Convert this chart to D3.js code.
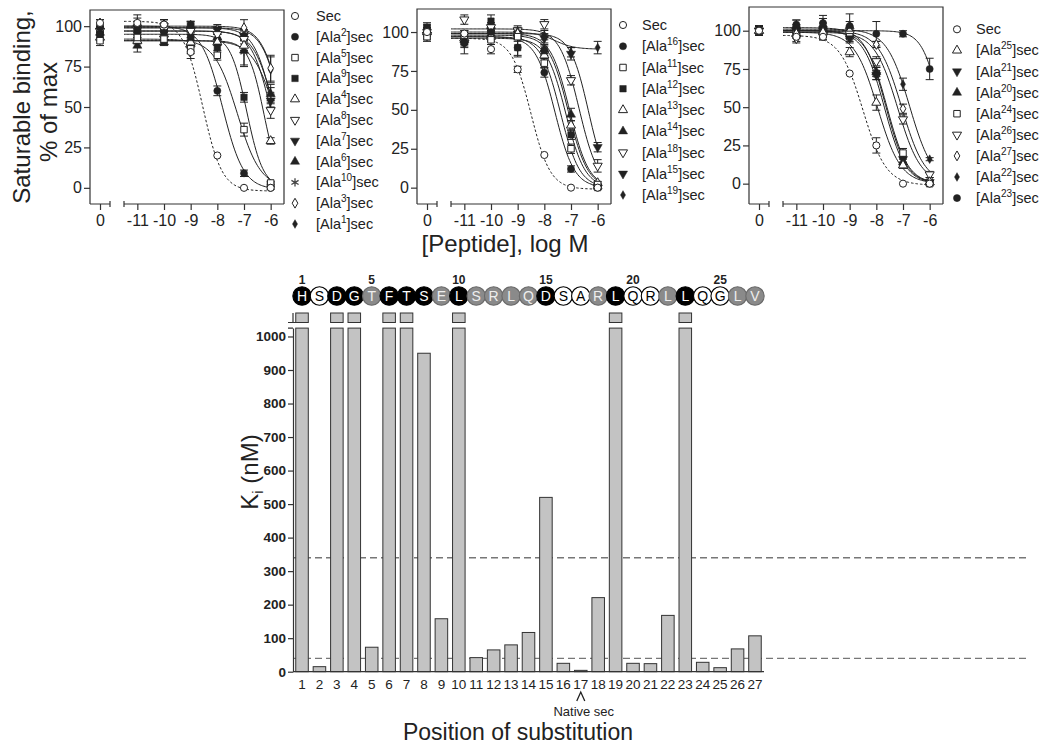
<!DOCTYPE html>
<html><head><meta charset="utf-8">
<script src="https://cdn.jsdelivr.net/npm/d3@7"></script>
<style>body{margin:0;background:#fff}svg{font-family:"Liberation Sans",Arial,Helvetica,sans-serif}</style>
</head><body>
<svg id="c" width="1050" height="748"></svg>
<script>
// ---------------- DATA ----------------
// concentration axis: first entry is the vehicle (no peptide, "0")
const concTickLabels = ["0", "-11", "-10", "-9", "-8", "-7", "-6"];
const concLog = [0, -11, -10, -9, -8, -7, -6];

// Panel 1
const p1Residue = [null, 2, 5, 9, 4, 8, 7, 6, 10, 3, 1];
const p1Symbol = ["circleOpen","circle","squareOpen","square","triangleOpen","triangleDownOpen","triangleDown","triangle","asterisk","diamondOpen","diamondSmall"];
const p1Values = [
  [102,102,101,84,20,0,0],
  [99,100,101,101,60,9,0],
  [91,93,92,86,82,36,3],
  [95,97,96,93,87,56,2],
  [93,91,95,90,90,88,29],
  [97,98,98,97,95,92,48],
  [97,99,100,98,98,94,54],
  [96,88,90,89,93,85,58],
  [98,96,99,95,92,84,58],
  [102,100,101,100,98,99,74],
  [98,98,99,101,97,95,73]
];
const p1Err = [
  [2,3,3,4,0,0,0],[2,3,3,2,3,2,1],[3,2,2,3,3,4,1],[2,2,2,2,3,3,1],
  [2,2,2,2,2,3,2],[2,2,2,2,3,3,5],[2,2,2,2,3,3,4],[2,4,2,2,3,10,4],
  [2,2,2,2,3,8,6],[2,7,3,2,2,5,8],[2,2,2,2,2,3,8]
];
// fitted curve parameters: [top, bottom, logIC50, hill]
const p1Fit = [
  [103,-2,-8.55,1.2],[100,-1,-7.8,1.1],[92,0,-7.25,1],[95,0,-6.9,1.4],
  [91,0,-6.25,1.5],[97,0,-6.0,1.2],[99,0,-5.9,1.2],[91,0,-5.8,1],
  [97,0,-5.85,1.1],[100,0,-5.6,1.2],[99,0,-5.6,1.2]
];

// Panel 2
const p2Residue = [null, 16, 11, 12, 13, 14, 18, 15, 19];
const p2Symbol = ["circleOpen","circle","squareOpen","square","triangleOpen","triangle","triangleDownOpen","triangleDown","diamondSmall"];
const p2Values = [
  [100,99,89,76,21,0,0],
  [102,93,100,90,74,12,0],
  [97,98,95,97,80,25,2],
  [103,94,107,90,88,34,0],
  [100,96,97,99,85,40,3],
  [101,95,98,100,89,47,1],
  [98,108,103,101,105,69,14],
  [100,93,101,99,96,86,26],
  [99,96,102,99,98,87,90]
];
const p2Err = [
  [3,2,3,2,0,0,0],[3,3,4,5,3,2,1],[3,3,3,3,3,3,1],[3,3,4,6,3,3,1],
  [3,3,3,3,3,3,1],[3,3,3,3,3,4,1],[3,3,3,3,3,3,4],[3,7,3,3,3,4,3],[3,3,3,3,3,3,4]
];
const p2Fit = [
  [96,-1,-8.5,1.2],[97,0,-7.6,1.2],[97,0,-7.4,1.2],[96,0,-7.2,1.2],
  [98,0,-7.1,1.2],[99,0,-7.05,1.2],[102,0,-6.7,1.2],[99,0,-6.35,1.3],[100,89,-7.6,1.2]
];

// Panel 3
const p3Residue = [null, 25, 21, 20, 24, 26, 27, 22, 23];
const p3Symbol = ["circleOpen","triangleOpen","triangleDown","triangle","squareOpen","triangleDownOpen","diamondOpen","diamondSmall","circle"];
const p3Values = [
  [100,96,96,72,25,0,0],
  [100,98,99,86,53,12,1],
  [100,100,100,95,71,16,1],
  [100,103,104,103,73,14,1],
  [100,100,99,96,72,20,0],
  [100,95,97,98,80,42,6],
  [100,99,99,100,91,49,3],
  [100,101,102,99,91,65,16],
  [100,104,105,103,98,98,75]
];
const p3Err = [
  [3,3,2,0,5,0,0],[3,3,3,3,5,2,1],[3,3,3,3,3,2,1],[3,4,4,8,3,2,1],
  [3,3,3,3,4,3,1],[3,3,3,3,3,3,2],[3,3,3,3,2,3,1],[3,3,3,3,2,4,1],[3,3,5,3,8,2,7]
];
const p3Fit = [
  [97,-1,-8.5,1],[99,0,-7.95,1],[100,0,-7.7,1.1],[102,0,-7.65,1.1],
  [100,0,-7.6,1.1],[99,0,-7.2,1],[100,0,-7.05,1],[101,0,-6.75,1],[100,0,-5.6,1.3]
];
const yTicksBinding = [0, 25, 50, 75, 100];

// Bottom chart
const positions = [1,2,3,4,5,6,7,8,9,10,11,12,13,14,15,16,17,18,19,20,21,22,23,24,25,26,27];
const residues = ["H","S","D","G","T","F","T","S","E","L","S","R","L","Q","D","S","A","R","L","Q","R","L","L","Q","G","L","V"];
// k = black (large loss), g = grey (intermediate), w = white (little effect)
const residueClass = ["k","w","k","k","g","k","k","k","g","k","g","g","g","g","k","w","w","g","k","w","w","g","k","w","w","g","g"];
// Ki (nM); null = off scale (> 1000 nM, broken bar)
const kiValues = [null,15,null,null,73,null,null,950,158,null,42,65,80,117,520,25,4,221,null,25,24,168,null,28,12,68,107];
const kiTicks = [0,100,200,300,400,500,600,700,800,900,1000];
const kiThresholds = [340, 40];
const numberedPositions = [1,5,10,15,20,25];

// ---------------- DRAW ----------------
const svg = d3.select("#c");
const INK = "#222";

function markerDef(type){
  const m = {
    circleOpen:[d3.symbolCircle,40,"open"], circle:[d3.symbolCircle,40,"fill"],
    squareOpen:[d3.symbolSquare,42,"open"], square:[d3.symbolSquare,42,"fill"],
    triangleOpen:[d3.symbolTriangle,36,"open"], triangle:[d3.symbolTriangle,36,"fill"],
    triangleDownOpen:[d3.symbolTriangle,36,"open",180], triangleDown:[d3.symbolTriangle,36,"fill",180],
    diamondOpen:[d3.symbolDiamond,28,"open"], diamondSmall:[d3.symbolDiamond,22,"fill"],
    asterisk:[d3.symbolAsterisk,48,"ast"]
  };
  return m[type];
}
function drawMarker(g, type, x, y){
  const [sym, size, mode, rot] = markerDef(type);
  const p = g.append("path").attr("d", d3.symbol(sym, size)())
    .attr("transform", `translate(${x},${y})` + (rot ? ` rotate(${rot})` : ""));
  if (mode === "open") p.attr("fill", "#fff").attr("stroke", INK).attr("stroke-width", 1);
  else if (mode === "fill") p.attr("fill", INK).attr("stroke", INK).attr("stroke-width", 0.5);
  else p.attr("fill", "none").attr("stroke", "#444").attr("stroke-width", 1.3);
}
function legendText(g, x, y, residue){
  const t = g.append("text").attr("x", x).attr("y", y).attr("font-size", 14.5).attr("fill", INK);
  if (residue === null) { t.text("Sec"); return; }
  t.append("tspan").text("[Ala");
  t.append("tspan").attr("dy", -6).attr("font-size", 10).text(residue);
  t.append("tspan").attr("dy", 6).text("]sec");
}

function drawPanel(cfg, residue, symbols, values, errs, fits){
  const L = cfg.left, R = cfg.left + 194, T = cfg.top, B = 204;
  const g = svg.append("g");
  const y = d3.scaleLinear().domain(cfg.yDomain).range([B, T]);
  const x1 = d3.scaleLinear().domain([-0.375, 0.375]).range([L, L + 20]);
  const x2 = d3.scaleLinear().domain([-11.5, -5.5]).range([L + 34, R]);
  const xAt = i => i === 0 ? x1(concLog[0]) : x2(concLog[i]);

  // frame
  g.append("path").attr("d", `M${L},${B}V${T}H${R}V${B}`).attr("fill","none").attr("stroke","#333").attr("stroke-width",1.2);
  g.append("path").attr("d", `M${L},${B}H${L+20}M${L+20},${B-3}V${B+3}M${L+34},${B-3}V${B+3}M${L+34},${B}H${R}`)
    .attr("fill","none").attr("stroke","#333").attr("stroke-width",1.2);

  // axes
  const ya = g.append("g").attr("transform", `translate(${L},0)`)
    .call(d3.axisLeft(y).tickValues(yTicksBinding).tickSize(6).tickPadding(2));
  const xa1 = g.append("g").attr("transform", `translate(0,${B})`)
    .call(d3.axisBottom(x1).tickValues([concLog[0]]).tickFormat(() => concTickLabels[0]).tickSize(6).tickPadding(5));
  const xa2 = g.append("g").attr("transform", `translate(0,${B})`)
    .call(d3.axisBottom(x2).tickValues(concLog.slice(1)).tickFormat((d,i) => concTickLabels[i+1]).tickSize(6).tickPadding(5));
  [ya, xa1, xa2].forEach(a => {
    a.select(".domain").remove();
    a.selectAll("line").attr("stroke","#333").attr("stroke-width",1.2);
    a.selectAll("text").attr("font-size",16).attr("fill",INK).attr("font-family","Liberation Sans, Arial, sans-serif");
  });

  // fitted curves
  const line = d3.line().x(d => x2(d[0])).y(d => y(d[1]));
  fits.forEach((f, s) => {
    const [top, bot, c, h] = f;
    const pts = d3.range(-11.5, -5.999, 0.05).map(xv => [xv, bot + (top - bot) / (1 + Math.pow(10, h * (xv - c)))]);
    g.append("path").attr("d", line(pts)).attr("fill","none").attr("stroke", INK)
      .attr("stroke-width", 1).attr("stroke-dasharray", s === 0 ? "2.5,2" : null);
  });

  // error bars
  values.forEach((vals, s) => {
    vals.forEach((v, i) => {
      const e = errs[s][i]; if (!e) return;
      const xx = xAt(i);
      g.append("path").attr("d", `M${xx},${y(v-e)}V${y(v+e)}M${xx-4},${y(v-e)}H${xx+4}M${xx-4},${y(v+e)}H${xx+4}`)
        .attr("stroke", INK).attr("stroke-width", 1).attr("fill","none");
    });
  });
  // markers
  for (let s = values.length - 1; s >= 0; s--) {
    values[s].forEach((v, i) => drawMarker(g, symbols[s], xAt(i), y(v)));
  }
  // legend
  residue.forEach((r, i) => {
    const yy = cfg.legY + i * cfg.legStep;
    drawMarker(g, symbols[i], cfg.legMarkX, yy);
    legendText(g, cfg.legTextX, yy + 5, r);
  });
}

drawPanel({left:90, top:10, yDomain:[-10,110], legMarkX:295, legTextX:316, legY:16, legStep:20.8},
  p1Residue, p1Symbol, p1Values, p1Err, p1Fit);
drawPanel({left:417, top:9, yDomain:[-10.5,114.8], legMarkX:623, legTextX:642, legY:25, legStep:21.25},
  p2Residue, p2Symbol, p2Values, p2Err, p2Fit);
drawPanel({left:749, top:7, yDomain:[-13.3,115.5], legMarkX:957, legTextX:976, legY:29.3, legStep:21.1},
  p3Residue, p3Symbol, p3Values, p3Err, p3Fit);

// top axis titles
svg.append("text").attr("transform","translate(30,107) rotate(-90)").attr("text-anchor","middle")
  .attr("font-size",24).attr("fill",INK).text("Saturable binding,");
svg.append("text").attr("transform","translate(57,112) rotate(-90)").attr("text-anchor","middle")
  .attr("font-size",24).attr("fill",INK).text("% of max");
svg.append("text").attr("x",505).attr("y",252).attr("text-anchor","middle")
  .attr("font-size",24).attr("fill",INK).text("[Peptide], log M");

// ---------- bottom bar chart ----------
const bx = d3.scaleBand().domain(positions).range([293, 764]).paddingInner(0.28).paddingOuter(0.158);
const by = d3.scaleLinear().domain([0, 1025]).range([671.7, 328.1]);
const upperTop = 313, upperBot = 322.5;
const bg = svg.append("g");

// threshold dashed lines
kiThresholds.forEach(v => {
  bg.append("line").attr("x1", 293).attr("x2", 1030).attr("y1", by(v)).attr("y2", by(v))
    .attr("stroke", "#777").attr("stroke-width", 1.3).attr("stroke-dasharray", "7,4");
});

// bars
positions.forEach((p, i) => {
  const v = kiValues[i];
  const x0 = bx(p), w = bx.bandwidth();
  if (v === null) {
    bg.append("rect").attr("x", x0).attr("y", by(1025)).attr("width", w).attr("height", by(0) - by(1025))
      .attr("fill", "#c3c3c3").attr("stroke", "#333").attr("stroke-width", 1);
    bg.append("rect").attr("x", x0).attr("y", upperTop).attr("width", w).attr("height", upperBot - upperTop)
      .attr("fill", "#c3c3c3").attr("stroke", "#333").attr("stroke-width", 1);
  } else {
    bg.append("rect").attr("x", x0).attr("y", by(v)).attr("width", w).attr("height", by(0) - by(v))
      .attr("fill", "#c3c3c3").attr("stroke", "#333").attr("stroke-width", 1);
  }
});

// y axis
const bya = bg.append("g").attr("transform", "translate(293,0)")
  .call(d3.axisLeft(by).tickValues(kiTicks).tickFormat(d3.format("d")).tickSize(5).tickPadding(2).tickSizeOuter(0));
bya.select(".domain").attr("stroke", "#333").attr("stroke-width", 1.2);
bya.selectAll("line").attr("stroke", "#333").attr("stroke-width", 1.2);
bya.selectAll("text").attr("font-size", 13.5).attr("font-weight", "bold").attr("fill", INK)
  .attr("font-family","Liberation Sans, Arial, sans-serif");
bg.append("path").attr("d", `M293,${upperTop}V${upperBot}M288,${upperBot}H298M288,${by(1025)}H293`)
  .attr("stroke", "#333").attr("stroke-width", 1.2).attr("fill", "none");

// x axis
bg.append("line").attr("x1", 293).attr("x2", 764).attr("y1", by(0)).attr("y2", by(0)).attr("stroke", "#333").attr("stroke-width", 1.2);
positions.forEach(p => {
  bg.append("text").attr("x", bx(p) + bx.bandwidth()/2).attr("y", 689).attr("text-anchor", "middle")
    .attr("font-size", 13.5).attr("fill", INK).text(p);
});
const x17 = bx(17) + bx.bandwidth()/2;
bg.append("path").attr("d", `M${x17-4},${701}L${x17},${692}L${x17+4},${701}`).attr("fill","none").attr("stroke",INK).attr("stroke-width",1.3);
bg.append("text").attr("x", x17 + 3).attr("y", 716).attr("text-anchor","middle").attr("font-size",13).attr("fill",INK).text("Native sec");
bg.append("text").attr("x", 518).attr("y", 740).attr("text-anchor","middle").attr("font-size",23).attr("fill",INK).text("Position of substitution");

// Ki label
const kl = bg.append("text").attr("transform", "translate(258,472) rotate(-90)").attr("text-anchor", "middle")
  .attr("font-size", 24).attr("fill", INK);
kl.append("tspan").text("K");
kl.append("tspan").attr("font-size", 15).attr("dy", 5).text("i");
kl.append("tspan").attr("dy", -5).text(" (nM)");

// sequence circles
const cy = 296;
positions.forEach((p, i) => {
  const cx = bx(p) + bx.bandwidth()/2;
  const cls = residueClass[i];
  const fill = cls === "k" ? "#000" : cls === "g" ? "#8a8a8a" : "#fff";
  const stroke = cls === "g" ? "#6a6a6a" : "#000";
  bg.append("circle").attr("cx", cx).attr("cy", cy).attr("r", 9.2).attr("fill", fill).attr("stroke", stroke).attr("stroke-width", 1.1);
  bg.append("text").attr("x", cx).attr("y", cy + 5).attr("text-anchor", "middle").attr("font-size", 14)
    .attr("fill", cls === "w" ? "#000" : (cls === "g" ? "#eee" : "#fff")).text(residues[i]);
});
numberedPositions.forEach(p => {
  bg.append("text").attr("x", bx(p) + bx.bandwidth()/2).attr("y", 284).attr("text-anchor", "middle")
    .attr("font-size", 12).attr("font-weight", "bold").attr("fill", INK).text(p);
});
</script>
</body></html>
